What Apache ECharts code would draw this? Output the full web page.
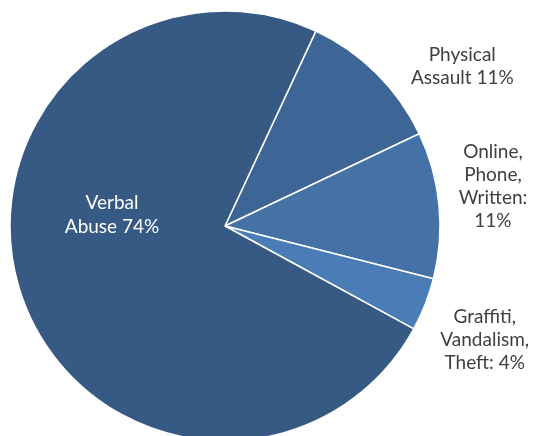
<!DOCTYPE html>
<html>
<head>
<meta charset="utf-8">
<script src="https://cdn.jsdelivr.net/npm/echarts@6/dist/echarts.min.js"></script>
<style>
  html, body { margin: 0; padding: 0; background: #fff; }
  #main { width: 534px; height: 436px; }
</style>
</head>
<body>
<div id="main"></div>
<script>
// slices, clockwise from the top-right edge
const categories = ['Physical Assault', 'Online, Phone, Written', 'Graffiti, Vandalism, Theft', 'Verbal Abuse'];
const labelLines = [
  ['Physical', 'Assault 11%'],
  ['Online,', 'Phone,', 'Written:', '11%'],
  ['Graffiti,', 'Vandalism,', 'Theft: 4%'],
  ['Verbal', 'Abuse 74%'],
];
const values = [11, 11, 4, 74];
const colors = ['#3d6696', '#4472a6', '#4a7db6', '#375a84'];

// nudges for each label, relative to where echarts puts it
const labelOffsets = [[-9, 0], [-11, -18], [-12, 32], [-8, -46]];

const data = values.map((v, i) => ({
  name: categories[i],
  value: v,
  itemStyle: { color: colors[i] },
  label: {
    formatter: labelLines[i].map((t) => '{c|' + t + '}').join('\n'),
    offset: labelOffsets[i],
  },
}));
// verbal sits inside its slice, white
data[3].label.position = 'inside';
data[3].label.rich = { c: { color: '#fff', width: 110, align: 'center', fontFamily: 'Lato', fontSize: 19, lineHeight: 24 } };

const chart = echarts.init(document.getElementById('main'));
chart.setOption({
  animation: false,
  series: [{
    type: 'pie',
    center: [225, 226],
    radius: 215,
    startAngle: 65,
    clockwise: true,
    itemStyle: { borderColor: '#fff', borderWidth: 1.5 },
    label: {
      show: true,
      position: 'outside',
      overflow: 'none',
      rich: {
        c: { color: '#404040', width: 110, align: 'center', fontFamily: 'Lato', fontSize: 19, lineHeight: 23 },
      },
    },
    labelLine: { show: false, length: 10, length2: 30 },
    data: data,
  }],
});
</script>
</body>
</html>
